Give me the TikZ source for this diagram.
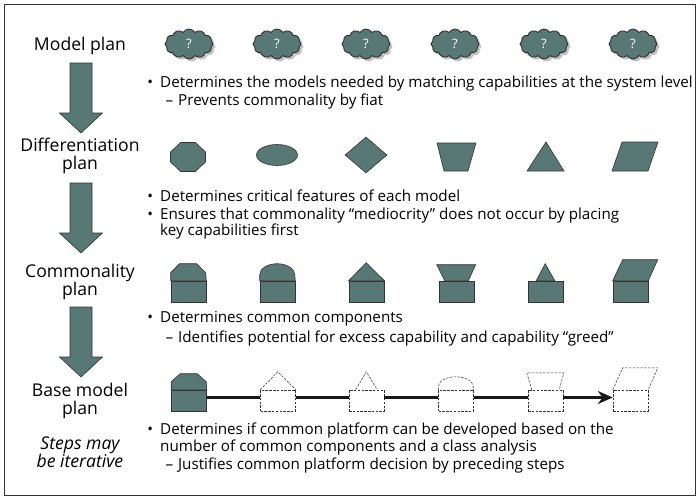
\documentclass[tikz,border=0pt]{standalone}
\usepackage{fontspec}
\setmainfont{Open Sans}
\usepackage{tikz}
\usetikzlibrary{shapes.geometric, shapes.symbols, shadows, arrows.meta}
\definecolor{slate}{RGB}{88,120,118}

\begin{document}
\begin{tikzpicture}[x=1pt, y=-1pt, inner sep=0pt,
	every node/.style={font=\fontsize{15.2}{17}\selectfont},
	lbl/.style={align=center, font=\fontsize{17.6}{18.5}\selectfont},
	txt/.style={anchor=mid west},
	blob/.style={cloud, cloud puffs=12, cloud puff arc=120, aspect=1.6, minimum width=48pt, minimum height=30pt, draw=black!85, line width=0.8pt, fill=slate, text=white, font=\fontsize{13}{15}\selectfont, drop shadow={shadow xshift=2.5pt, shadow yshift=-2.5pt, opacity=0.5}},
	part/.style={draw=black!80, fill=slate, line width=0.6pt},
	ghost/.style={draw=black!80, fill=white, line width=0.5pt, dash pattern=on 2.5pt off 1.3pt},
	box/.style={rectangle, minimum width=35pt, minimum height=21pt},
	link/.style={line width=2.2pt, black!90}]
	\useasboundingbox (0,0) rectangle (699,498);
	\draw[line width=1pt, black!80] (4,4) rectangle (695,495);

	\node[lbl] (l1) at (80,46) {Model plan};
	\node[lbl] (l2) at (80,156) {Differentiation\\plan};
	\node[lbl] (l3) at (80,282) {Commonality\\plan};
	\node[lbl] (l4) at (80,401) {Base model\\plan};
	\node[lbl, font=\itshape\fontsize{17.6}{18.5}\selectfont] (l5) at (80,452) {Steps may\\be iterative};

	\draw[part] (70,63) -- (92,63) -- (92,113) -- (102.5,113) -- (81,133) -- (59.5,113) -- (70,113) -- cycle;
	\draw[part] (70,183) -- (92,183) -- (92,233) -- (102.5,233) -- (81,253) -- (59.5,233) -- (70,233) -- cycle;
	\draw[part] (70,307) -- (92,307) -- (92,357) -- (102.5,357) -- (81,377) -- (59.5,357) -- (70,357) -- cycle;

	\node[blob] (m1) at (189,44) {?};
	\node[blob] (m2) at (277,44) {?};
	\node[blob] (m3) at (366,44) {?};
	\node[blob] (m4) at (455,44) {?};
	\node[blob] (m5) at (544,44) {?};
	\node[blob] (m6) at (633,44) {?};

	\node[txt] (t1) at (160,85) {\llap{\textbullet\hspace{7pt}}Determines the models needed by matching capabilities at the system level};
	\node[txt] (t2) at (178,103) {\llap{–\hspace{5pt}}Prevents commonality by fiat};

	\draw[part, shift={(188,157)}] (-17.5,-5) -- (-7.5,-14.5) -- (7.5,-14.5) -- (17.5,-5) -- (17.5,5) -- (7.5,14.5) -- (-7.5,14.5) -- (-17.5,5) -- cycle;
	\node[part, ellipse, minimum width=41pt, minimum height=21pt] (d2) at (277,155) {};
	\node[part, diamond, minimum width=42pt, minimum height=36pt] (d3) at (366,155) {};
	\draw[part] (437,143) -- (476,143) -- (468,171) -- (444,171) -- cycle;
	\draw[part] (527,171) -- (546,142) -- (564,171) -- cycle;
	\draw[part] (622,142) -- (658,142) -- (648,171) -- (612,171) -- cycle;

	\node[txt] (t3) at (160,199) {\llap{\textbullet\hspace{7pt}}Determines critical features of each model};
	\node[txt] (t4) at (160,217) {\llap{\textbullet\hspace{7pt}}Ensures that commonality “mediocrity” does not occur by placing};
	\node[txt] (t5) at (160,233) {key capabilities first};

	\node[part, box] (c1) at (188.5,291.5) {};
	\node[part, box] (c2) at (277.5,291.5) {};
	\node[part, box] (c3) at (366.5,291.5) {};
	\node[part, box] (c4) at (456.5,291.5) {};
	\node[part, box] (c5) at (545.5,291.5) {};
	\node[part, box] (c6) at (630.5,291.5) {};
	\draw[part] (c1.north west) -- ++(0,-8) -- ++(9,-9) -- ++(17,0) -- ++(9,9) -- (c1.north east) -- cycle;
	\draw[part] (c2.north west) -- ++(0,-6) arc[start angle=180, end angle=0, x radius=17.5pt, y radius=11pt] -- (c2.north east) -- cycle;
	\draw[part] (c3.north west) -- ++(17.5,-18) -- (c3.north east) -- cycle;
	\draw[part] ([xshift=6pt]c4.north west) -- ++(-8,-16) -- ++(39,0) -- ([xshift=-6pt]c4.north east) -- cycle;
	\draw[part] ([xshift=8.5pt]c5.north west) -- ++(9,-17) -- ([xshift=-8.5pt]c5.north east) -- cycle;
	\draw[part] (c6.north west) -- ++(10,-21) -- ++(35,0) -- (c6.north east) -- cycle;

	\node[txt] (t6) at (160,320) {\llap{\textbullet\hspace{7pt}}Determines common components};
	\node[txt] (t7) at (178,340) {\llap{–\hspace{5pt}}Identifies potential for excess capability and capability “greed”};

	\node[part, box] (b1) at (189,400.5) {};
	\node[ghost, box] (b2) at (278,400.5) {};
	\node[ghost, box] (b3) at (366.5,400.5) {};
	\node[ghost, box] (b4) at (456,400.5) {};
	\node[ghost, box] (b5) at (545.5,400.5) {};
	\node[ghost, box] (b6) at (630.5,400.5) {};
	\draw[part] (b1.north west) -- ++(0,-8) -- ++(9,-8) -- ++(17,0) -- ++(9,8) -- (b1.north east) -- cycle;
	\draw[ghost] (b2.north west) -- ++(17.5,-18) -- (b2.north east);
	\draw[ghost] ([xshift=7pt]b3.north west) -- ++(10.5,-18) -- ([xshift=-7pt]b3.north east);
	\draw[ghost] (b4.north west) -- ++(0,-3) arc[start angle=180, end angle=0, x radius=17.5pt, y radius=10pt] -- (b4.north east);
	\draw[ghost] ([xshift=4pt]b5.north west) -- ++(-5,-17) -- ++(37,0) -- ([xshift=-4pt]b5.north east);
	\draw[ghost] (b6.north west) -- ++(10,-22) -- ++(35,0) -- (b6.north east);

	\draw[link] ([yshift=3pt]b1.east) -- ([yshift=3pt]b2.west);
	\draw[link] ([yshift=3pt]b2.east) -- ([yshift=3pt]b3.west);
	\draw[link] ([yshift=3pt]b3.east) -- ([yshift=3pt]b4.west);
	\draw[link] ([yshift=3pt]b4.east) -- ([yshift=3pt]b5.west);
	\draw[link, -{Stealth[length=15pt, width=13pt]}] ([yshift=3pt]b5.east) -- ([yshift=3pt]b6.west);

	\node[txt] (t8) at (160,432) {\llap{\textbullet\hspace{7pt}}Determines if common platform can be developed based on the};
	\node[txt] (t9) at (160,449) {number of common components and a class analysis};
	\node[txt] (t10) at (178,467) {\llap{–\hspace{5pt}}Justifies common platform decision by preceding steps};
\end{tikzpicture}
\end{document}
